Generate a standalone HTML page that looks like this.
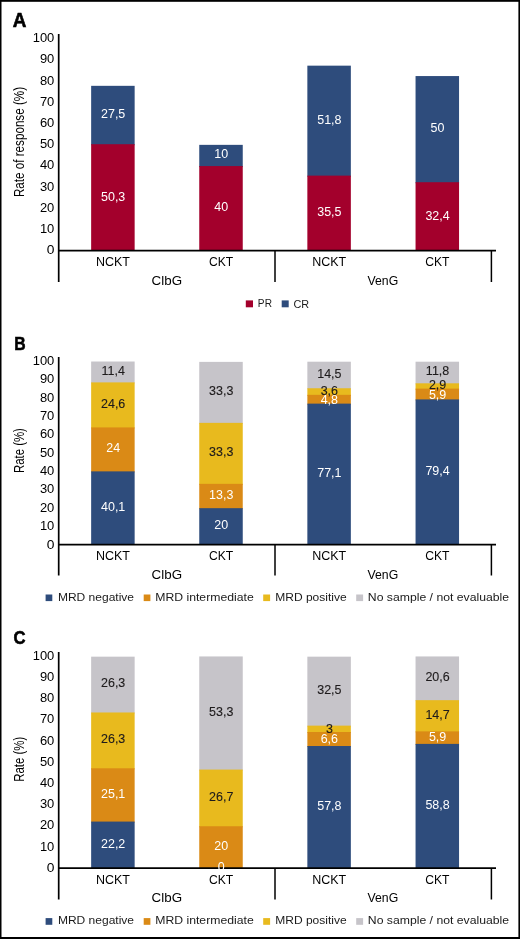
<!DOCTYPE html>
<html><head><meta charset="utf-8"><style>
html,body{margin:0;padding:0;background:#fff;}
svg{display:block;font-family:"Liberation Sans",sans-serif;}
</style></head><body>
<svg width="520" height="939" viewBox="0 0 520 939">
<rect x="0" y="0" width="520" height="939" fill="#fff"/>
<g style="will-change:transform">
<rect x="91.15" y="85.83" width="43.50" height="59.38" fill="#2E4C7C"/>
<rect x="91.15" y="144.21" width="43.50" height="106.79" fill="#A3002C"/>
<rect x="199.25" y="144.85" width="43.50" height="22.23" fill="#2E4C7C"/>
<rect x="199.25" y="166.08" width="43.50" height="84.92" fill="#A3002C"/>
<rect x="307.35" y="65.66" width="43.50" height="110.97" fill="#2E4C7C"/>
<rect x="307.35" y="175.63" width="43.50" height="75.37" fill="#A3002C"/>
<rect x="415.55" y="76.06" width="43.50" height="107.15" fill="#2E4C7C"/>
<rect x="415.55" y="182.21" width="43.50" height="68.79" fill="#A3002C"/>
<text transform="translate(46.66,254.10) scale(1.1500,1)" font-size="12" fill="#000">0</text>
<text transform="translate(39.89,232.90) scale(1.0800,1)" font-size="12" fill="#000">10</text>
<text transform="translate(39.89,211.70) scale(1.0800,1)" font-size="12" fill="#000">20</text>
<text transform="translate(39.89,190.50) scale(1.0800,1)" font-size="12" fill="#000">30</text>
<text transform="translate(39.89,169.30) scale(1.0800,1)" font-size="12" fill="#000">40</text>
<text transform="translate(39.89,148.10) scale(1.0800,1)" font-size="12" fill="#000">50</text>
<text transform="translate(39.89,126.90) scale(1.0800,1)" font-size="12" fill="#000">60</text>
<text transform="translate(39.89,105.70) scale(1.0800,1)" font-size="12" fill="#000">70</text>
<text transform="translate(39.89,84.50) scale(1.0800,1)" font-size="12" fill="#000">80</text>
<text transform="translate(39.89,63.30) scale(1.0800,1)" font-size="12" fill="#000">90</text>
<text transform="translate(32.68,42.10) scale(1.0800,1)" font-size="12" fill="#000">100</text>
<line x1="58.70" y1="34.00" x2="58.70" y2="282.00" stroke="#000" stroke-width="1.7"/>
<line x1="58.30" y1="250.60" x2="496.00" y2="250.60" stroke="#000" stroke-width="1.8"/>
<line x1="275.00" y1="250.60" x2="275.00" y2="282.00" stroke="#000" stroke-width="1.5"/>
<line x1="491.40" y1="250.60" x2="491.40" y2="282.00" stroke="#000" stroke-width="1.5"/>
<text transform="translate(113.15,200.51) scale(1.04,1)" font-size="12" text-anchor="middle" fill="#fff" stroke="#fff" stroke-width="0">50,3</text>
<text transform="translate(113.15,117.92) scale(1.04,1)" font-size="12" text-anchor="middle" fill="#fff" stroke="#fff" stroke-width="0">27,5</text>
<text transform="translate(221.25,211.44) scale(1.04,1)" font-size="12" text-anchor="middle" fill="#fff" stroke="#fff" stroke-width="0">40</text>
<text transform="translate(221.25,158.36) scale(1.04,1)" font-size="12" text-anchor="middle" fill="#fff" stroke="#fff" stroke-width="0">10</text>
<text transform="translate(329.35,216.22) scale(1.04,1)" font-size="12" text-anchor="middle" fill="#fff" stroke="#fff" stroke-width="0">35,5</text>
<text transform="translate(329.35,123.55) scale(1.04,1)" font-size="12" text-anchor="middle" fill="#fff" stroke="#fff" stroke-width="0">51,8</text>
<text transform="translate(437.55,219.51) scale(1.04,1)" font-size="12" text-anchor="middle" fill="#fff" stroke="#fff" stroke-width="0">32,4</text>
<text transform="translate(437.55,132.04) scale(1.04,1)" font-size="12" text-anchor="middle" fill="#fff" stroke="#fff" stroke-width="0">50</text>
<text transform="translate(95.93,266.10) scale(0.9995,1)" font-size="12.5" fill="#000">NCKT</text>
<text transform="translate(208.93,266.10) scale(0.9718,1)" font-size="12.5" fill="#000">CKT</text>
<text transform="translate(312.13,266.10) scale(0.9995,1)" font-size="12.5" fill="#000">NCKT</text>
<text transform="translate(425.23,266.10) scale(0.9718,1)" font-size="12.5" fill="#000">CKT</text>
<text transform="translate(151.62,284.70) scale(0.9909,1)" font-size="13.5" fill="#000">ClbG</text>
<text transform="translate(367.55,284.70) scale(0.9224,1)" font-size="13.3" fill="#000">VenG</text>
<text transform="translate(12.63,26.50) scale(0.9727,1)" font-size="19.4" fill="#000" font-weight="bold" stroke="#000" stroke-width="0.6">A</text>
<text transform="translate(24.40,196.10) rotate(-90) scale(0.7523,1) translate(-1.27,0)" font-size="15.5" fill="#000">Rate of response (%)</text>
<rect x="245.80" y="300.40" width="7.20" height="6.90" fill="#A3002C"/>
<text transform="translate(257.87,307.30) scale(0.8678,1)" font-size="11.7" fill="#1a1a1a">PR</text>
<rect x="281.70" y="300.40" width="7.00" height="6.90" fill="#2E4C7C"/>
<text transform="translate(293.45,307.50) scale(0.9295,1)" font-size="11.7" fill="#1a1a1a">CR</text>
<rect x="91.15" y="361.52" width="43.50" height="21.87" fill="#C6C4C9"/>
<rect x="91.15" y="382.39" width="43.50" height="46.04" fill="#E8BA1E"/>
<rect x="91.15" y="427.43" width="43.50" height="44.94" fill="#DA8A16"/>
<rect x="91.15" y="471.38" width="43.50" height="73.42" fill="#2E4C7C"/>
<rect x="199.25" y="361.88" width="43.50" height="61.97" fill="#C6C4C9"/>
<rect x="199.25" y="422.86" width="43.50" height="61.97" fill="#E8BA1E"/>
<rect x="199.25" y="483.83" width="43.50" height="25.35" fill="#DA8A16"/>
<rect x="199.25" y="508.18" width="43.50" height="36.62" fill="#2E4C7C"/>
<rect x="307.35" y="361.70" width="43.50" height="27.55" fill="#C6C4C9"/>
<rect x="307.35" y="388.25" width="43.50" height="7.59" fill="#E8BA1E"/>
<rect x="307.35" y="394.84" width="43.50" height="9.79" fill="#DA8A16"/>
<rect x="307.35" y="403.63" width="43.50" height="141.17" fill="#2E4C7C"/>
<rect x="415.55" y="361.70" width="43.50" height="22.61" fill="#C6C4C9"/>
<rect x="415.55" y="383.31" width="43.50" height="6.31" fill="#E8BA1E"/>
<rect x="415.55" y="388.62" width="43.50" height="11.80" fill="#DA8A16"/>
<rect x="415.55" y="399.42" width="43.50" height="145.38" fill="#2E4C7C"/>
<text transform="translate(46.66,548.50) scale(1.1500,1)" font-size="12" fill="#000">0</text>
<text transform="translate(39.89,530.15) scale(1.0800,1)" font-size="12" fill="#000">10</text>
<text transform="translate(39.89,511.81) scale(1.0800,1)" font-size="12" fill="#000">20</text>
<text transform="translate(39.89,493.46) scale(1.0800,1)" font-size="12" fill="#000">30</text>
<text transform="translate(39.89,475.12) scale(1.0800,1)" font-size="12" fill="#000">40</text>
<text transform="translate(39.89,456.77) scale(1.0800,1)" font-size="12" fill="#000">50</text>
<text transform="translate(39.89,438.43) scale(1.0800,1)" font-size="12" fill="#000">60</text>
<text transform="translate(39.89,420.09) scale(1.0800,1)" font-size="12" fill="#000">70</text>
<text transform="translate(39.89,401.74) scale(1.0800,1)" font-size="12" fill="#000">80</text>
<text transform="translate(39.89,383.39) scale(1.0800,1)" font-size="12" fill="#000">90</text>
<text transform="translate(32.68,365.05) scale(1.0800,1)" font-size="12" fill="#000">100</text>
<line x1="58.70" y1="357.00" x2="58.70" y2="575.50" stroke="#000" stroke-width="1.7"/>
<line x1="58.30" y1="544.70" x2="496.00" y2="544.70" stroke="#000" stroke-width="1.8"/>
<line x1="275.00" y1="544.70" x2="275.00" y2="575.50" stroke="#000" stroke-width="1.5"/>
<line x1="491.40" y1="544.70" x2="491.40" y2="575.50" stroke="#000" stroke-width="1.5"/>
<text transform="translate(113.15,510.99) scale(1.04,1)" font-size="12" text-anchor="middle" fill="#fff" stroke="#fff" stroke-width="0">40,1</text>
<text transform="translate(113.15,452.30) scale(1.04,1)" font-size="12" text-anchor="middle" fill="#fff" stroke="#fff" stroke-width="0">24</text>
<text transform="translate(113.15,407.81) scale(1.04,1)" font-size="12" text-anchor="middle" fill="#1E1B1C" stroke="#1E1B1C" stroke-width="0.12">24,6</text>
<text transform="translate(113.15,374.85) scale(1.04,1)" font-size="12" text-anchor="middle" fill="#1E1B1C" stroke="#1E1B1C" stroke-width="0.12">11,4</text>
<text transform="translate(221.25,529.39) scale(1.04,1)" font-size="12" text-anchor="middle" fill="#fff" stroke="#fff" stroke-width="0">20</text>
<text transform="translate(221.25,498.90) scale(1.04,1)" font-size="12" text-anchor="middle" fill="#fff" stroke="#fff" stroke-width="0">13,3</text>
<text transform="translate(221.25,456.24) scale(1.04,1)" font-size="12" text-anchor="middle" fill="#1E1B1C" stroke="#1E1B1C" stroke-width="0.12">33,3</text>
<text transform="translate(221.25,395.27) scale(1.04,1)" font-size="12" text-anchor="middle" fill="#1E1B1C" stroke="#1E1B1C" stroke-width="0.12">33,3</text>
<text transform="translate(329.35,477.11) scale(1.04,1)" font-size="12" text-anchor="middle" fill="#fff" stroke="#fff" stroke-width="0">77,1</text>
<text transform="translate(329.35,404.04) scale(1.04,1)" font-size="12" text-anchor="middle" fill="#fff" stroke="#fff" stroke-width="0">4,8</text>
<text transform="translate(329.35,395.35) scale(1.04,1)" font-size="12" text-anchor="middle" fill="#1E1B1C" stroke="#1E1B1C" stroke-width="0.12">3,6</text>
<text transform="translate(329.35,377.87) scale(1.04,1)" font-size="12" text-anchor="middle" fill="#1E1B1C" stroke="#1E1B1C" stroke-width="0.12">14,5</text>
<text transform="translate(437.55,475.01) scale(1.04,1)" font-size="12" text-anchor="middle" fill="#fff" stroke="#fff" stroke-width="0">79,4</text>
<text transform="translate(437.55,399.12) scale(1.04,1)" font-size="12" text-anchor="middle" fill="#fff" stroke="#fff" stroke-width="0">5,9</text>
<text transform="translate(437.55,389.16) scale(1.04,1)" font-size="12" text-anchor="middle" fill="#1E1B1C" stroke="#1E1B1C" stroke-width="0.12">2,9</text>
<text transform="translate(437.55,375.40) scale(1.04,1)" font-size="12" text-anchor="middle" fill="#1E1B1C" stroke="#1E1B1C" stroke-width="0.12">11,8</text>
<text transform="translate(95.93,560.20) scale(0.9995,1)" font-size="12.5" fill="#000">NCKT</text>
<text transform="translate(208.93,560.20) scale(0.9718,1)" font-size="12.5" fill="#000">CKT</text>
<text transform="translate(312.13,560.20) scale(0.9995,1)" font-size="12.5" fill="#000">NCKT</text>
<text transform="translate(425.23,560.20) scale(0.9718,1)" font-size="12.5" fill="#000">CKT</text>
<text transform="translate(151.62,578.50) scale(0.9909,1)" font-size="13.5" fill="#000">ClbG</text>
<text transform="translate(367.55,578.50) scale(0.9224,1)" font-size="13.3" fill="#000">VenG</text>
<text transform="translate(14.15,349.50) scale(0.8463,1)" font-size="18.6" fill="#000" font-weight="bold" stroke="#000" stroke-width="0.6">B</text>
<text transform="translate(24.40,472.10) rotate(-90) scale(0.7349,1) translate(-1.27,0)" font-size="15.5" fill="#000">Rate (%)</text>
<rect x="45.60" y="594.50" width="6.70" height="6.60" fill="#2E4C7C"/>
<text transform="translate(57.91,601.10) scale(1.0646,1)" font-size="11.3" fill="#1a1a1a">MRD negative</text>
<rect x="143.70" y="594.50" width="6.70" height="6.60" fill="#DA8A16"/>
<text transform="translate(155.20,601.10) scale(1.0834,1)" font-size="11.3" fill="#1a1a1a">MRD intermediate</text>
<rect x="263.20" y="594.50" width="6.90" height="6.60" fill="#E8BA1E"/>
<text transform="translate(275.21,601.10) scale(1.0660,1)" font-size="11.3" fill="#1a1a1a">MRD positive</text>
<rect x="356.20" y="594.50" width="6.90" height="6.60" fill="#C6C4C9"/>
<text transform="translate(367.80,601.10) scale(1.0826,1)" font-size="11.3" fill="#1a1a1a">No sample / not evaluable</text>
<rect x="91.15" y="656.66" width="43.50" height="56.82" fill="#C6C4C9"/>
<rect x="91.15" y="712.48" width="43.50" height="56.82" fill="#E8BA1E"/>
<rect x="91.15" y="768.31" width="43.50" height="54.27" fill="#DA8A16"/>
<rect x="91.15" y="821.58" width="43.50" height="47.12" fill="#2E4C7C"/>
<rect x="199.25" y="656.45" width="43.50" height="114.13" fill="#C6C4C9"/>
<rect x="199.25" y="769.58" width="43.50" height="57.67" fill="#E8BA1E"/>
<rect x="199.25" y="826.25" width="43.50" height="42.45" fill="#DA8A16"/>
<rect x="307.35" y="656.66" width="43.50" height="69.98" fill="#C6C4C9"/>
<rect x="307.35" y="725.64" width="43.50" height="7.37" fill="#E8BA1E"/>
<rect x="307.35" y="732.01" width="43.50" height="15.01" fill="#DA8A16"/>
<rect x="307.35" y="746.02" width="43.50" height="122.68" fill="#2E4C7C"/>
<rect x="415.55" y="656.45" width="43.50" height="44.72" fill="#C6C4C9"/>
<rect x="415.55" y="700.17" width="43.50" height="32.20" fill="#E8BA1E"/>
<rect x="415.55" y="731.37" width="43.50" height="13.52" fill="#DA8A16"/>
<rect x="415.55" y="743.90" width="43.50" height="124.80" fill="#2E4C7C"/>
<text transform="translate(46.66,871.90) scale(1.1500,1)" font-size="12" fill="#000">0</text>
<text transform="translate(39.89,850.67) scale(1.0800,1)" font-size="12" fill="#000">10</text>
<text transform="translate(39.89,829.44) scale(1.0800,1)" font-size="12" fill="#000">20</text>
<text transform="translate(39.89,808.21) scale(1.0800,1)" font-size="12" fill="#000">30</text>
<text transform="translate(39.89,786.98) scale(1.0800,1)" font-size="12" fill="#000">40</text>
<text transform="translate(39.89,765.75) scale(1.0800,1)" font-size="12" fill="#000">50</text>
<text transform="translate(39.89,744.52) scale(1.0800,1)" font-size="12" fill="#000">60</text>
<text transform="translate(39.89,723.29) scale(1.0800,1)" font-size="12" fill="#000">70</text>
<text transform="translate(39.89,702.06) scale(1.0800,1)" font-size="12" fill="#000">80</text>
<text transform="translate(39.89,680.83) scale(1.0800,1)" font-size="12" fill="#000">90</text>
<text transform="translate(32.68,659.60) scale(1.0800,1)" font-size="12" fill="#000">100</text>
<line x1="58.70" y1="652.00" x2="58.70" y2="899.50" stroke="#000" stroke-width="1.7"/>
<line x1="58.30" y1="868.20" x2="496.00" y2="868.20" stroke="#000" stroke-width="1.8"/>
<line x1="275.00" y1="868.20" x2="275.00" y2="899.50" stroke="#000" stroke-width="1.5"/>
<line x1="491.40" y1="868.20" x2="491.40" y2="899.50" stroke="#000" stroke-width="1.5"/>
<text transform="translate(113.15,848.04) scale(1.04,1)" font-size="12" text-anchor="middle" fill="#fff" stroke="#fff" stroke-width="0">22,2</text>
<text transform="translate(113.15,797.84) scale(1.04,1)" font-size="12" text-anchor="middle" fill="#fff" stroke="#fff" stroke-width="0">25,1</text>
<text transform="translate(113.15,743.29) scale(1.04,1)" font-size="12" text-anchor="middle" fill="#1E1B1C" stroke="#1E1B1C" stroke-width="0.12">26,3</text>
<text transform="translate(113.15,687.47) scale(1.04,1)" font-size="12" text-anchor="middle" fill="#1E1B1C" stroke="#1E1B1C" stroke-width="0.12">26,3</text>
<text transform="translate(221.25,870.60) scale(1.04,1)" font-size="12" text-anchor="middle" fill="#fff" stroke="#fff" stroke-width="0">0</text>
<text transform="translate(221.25,850.38) scale(1.04,1)" font-size="12" text-anchor="middle" fill="#fff" stroke="#fff" stroke-width="0">20</text>
<text transform="translate(221.25,800.81) scale(1.04,1)" font-size="12" text-anchor="middle" fill="#1E1B1C" stroke="#1E1B1C" stroke-width="0.12">26,7</text>
<text transform="translate(221.25,715.91) scale(1.04,1)" font-size="12" text-anchor="middle" fill="#1E1B1C" stroke="#1E1B1C" stroke-width="0.12">53,3</text>
<text transform="translate(329.35,810.26) scale(1.04,1)" font-size="12" text-anchor="middle" fill="#fff" stroke="#fff" stroke-width="0">57,8</text>
<text transform="translate(329.35,743.42) scale(1.04,1)" font-size="12" text-anchor="middle" fill="#fff" stroke="#fff" stroke-width="0">6,6</text>
<text transform="translate(329.35,732.53) scale(1.04,1)" font-size="12" text-anchor="middle" fill="#1E1B1C" stroke="#1E1B1C" stroke-width="0.12">3</text>
<text transform="translate(329.35,694.05) scale(1.04,1)" font-size="12" text-anchor="middle" fill="#1E1B1C" stroke="#1E1B1C" stroke-width="0.12">32,5</text>
<text transform="translate(437.55,809.20) scale(1.04,1)" font-size="12" text-anchor="middle" fill="#fff" stroke="#fff" stroke-width="0">58,8</text>
<text transform="translate(437.55,741.14) scale(1.04,1)" font-size="12" text-anchor="middle" fill="#fff" stroke="#fff" stroke-width="0">5,9</text>
<text transform="translate(437.55,718.67) scale(1.04,1)" font-size="12" text-anchor="middle" fill="#1E1B1C" stroke="#1E1B1C" stroke-width="0.12">14,7</text>
<text transform="translate(437.55,681.21) scale(1.04,1)" font-size="12" text-anchor="middle" fill="#1E1B1C" stroke="#1E1B1C" stroke-width="0.12">20,6</text>
<text transform="translate(95.93,884.00) scale(0.9995,1)" font-size="12.5" fill="#000">NCKT</text>
<text transform="translate(208.93,884.00) scale(0.9718,1)" font-size="12.5" fill="#000">CKT</text>
<text transform="translate(312.13,884.00) scale(0.9995,1)" font-size="12.5" fill="#000">NCKT</text>
<text transform="translate(425.23,884.00) scale(0.9718,1)" font-size="12.5" fill="#000">CKT</text>
<text transform="translate(151.62,902.20) scale(0.9909,1)" font-size="13.5" fill="#000">ClbG</text>
<text transform="translate(367.55,902.20) scale(0.9224,1)" font-size="13.3" fill="#000">VenG</text>
<text transform="translate(13.42,643.90) scale(0.8963,1)" font-size="18.6" fill="#000" font-weight="bold" stroke="#000" stroke-width="0.6">C</text>
<text transform="translate(24.40,780.90) rotate(-90) scale(0.7366,1) translate(-1.27,0)" font-size="15.5" fill="#000">Rate (%)</text>
<rect x="45.60" y="918.10" width="6.70" height="6.70" fill="#2E4C7C"/>
<text transform="translate(57.91,924.20) scale(1.0646,1)" font-size="11.3" fill="#1a1a1a">MRD negative</text>
<rect x="143.70" y="918.10" width="6.70" height="6.70" fill="#DA8A16"/>
<text transform="translate(155.20,924.20) scale(1.0834,1)" font-size="11.3" fill="#1a1a1a">MRD intermediate</text>
<rect x="263.20" y="918.10" width="6.90" height="6.70" fill="#E8BA1E"/>
<text transform="translate(275.21,924.20) scale(1.0660,1)" font-size="11.3" fill="#1a1a1a">MRD positive</text>
<rect x="356.20" y="918.10" width="6.90" height="6.70" fill="#C6C4C9"/>
<text transform="translate(367.80,924.20) scale(1.0826,1)" font-size="11.3" fill="#1a1a1a">No sample / not evaluable</text>
</g>
<rect x="0" y="0" width="520" height="1.8" fill="#000"/>
<rect x="0" y="0" width="1.5" height="939" fill="#000"/>
<rect x="518.4" y="0" width="1.6" height="939" fill="#000"/>
<rect x="0" y="937.0" width="520" height="2" fill="#000"/>
</svg></body></html>
